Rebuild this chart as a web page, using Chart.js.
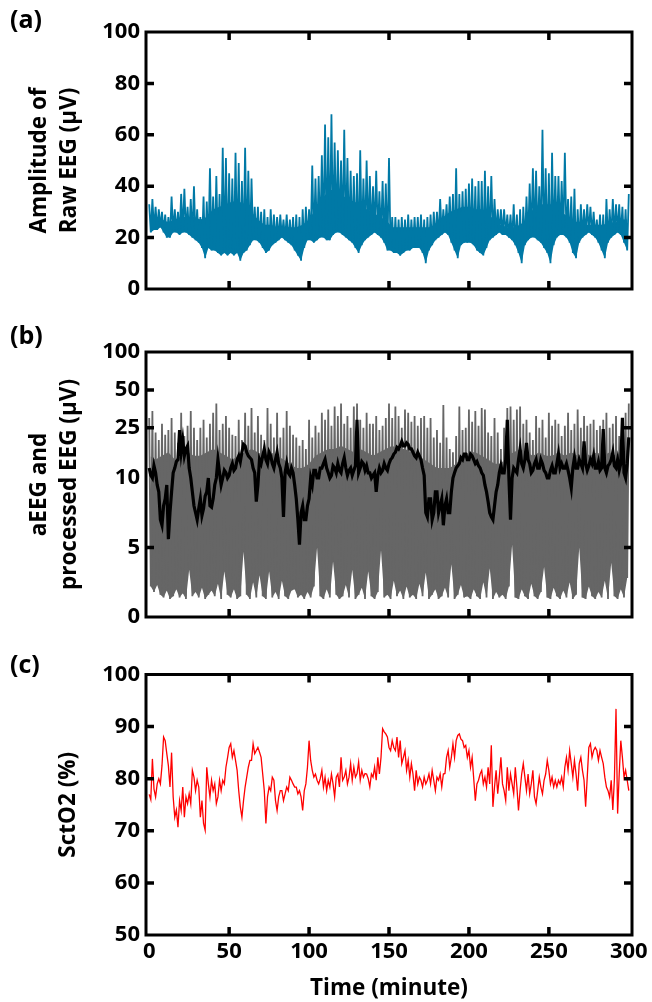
<!DOCTYPE html>
<html>
<head>
<meta charset="utf-8">
<script src="https://cdn.jsdelivr.net/npm/chart.js@4.4.1/dist/chart.umd.min.js"></script>
<style>
  html, body { margin: 0; padding: 0; background: #fff; }
  body { width: 652px; height: 1002px; position: relative; overflow: hidden; }
  canvas { position: absolute; left: 0; }
</style>
</head>
<body>
<canvas id="rawChart" width="652" height="310" style="top:0px"></canvas>
<canvas id="aeegChart" width="652" height="310" style="top:320px"></canvas>
<canvas id="sctChart" width="652" height="362" style="top:640px"></canvas>
<script>
// tick labels
const timeTicks = [0, 50, 100, 150, 200, 250, 300];
const rawTicks = [0, 20, 40, 60, 80, 100];
const aeegTicks = [0, 5, 10, 25, 50, 100];
const sctTicks = [50, 60, 70, 80, 90, 100];

// (a) raw EEG amplitude: peaks at even minutes, troughs at odd minutes (µV)
const rawPeak = [
  33, 35, 32, 31, 30, 29, 28, 36, 31, 30,
  37, 39, 32, 35, 40, 31, 28, 36, 34, 47,
  36, 44, 37, 55, 51, 45, 43, 53, 49, 42,
  55, 46, 43, 32, 32, 30, 31, 28, 31, 29,
  28, 29, 27, 29, 27, 28, 29, 28, 31, 32,
  31, 48, 43, 44, 52, 64, 59, 68, 57, 54,
  50, 62, 51, 46, 44, 45, 54, 43, 50, 44,
  40, 46, 38, 42, 41, 51, 28, 28, 27, 28,
  27, 29, 27, 28, 28, 29, 27, 28, 29, 30,
  30, 35, 31, 33, 36, 37, 47, 37, 38, 39,
  41, 43, 40, 42, 42, 46, 40, 44, 35, 31,
  31, 31, 29, 29, 33, 29, 31, 32, 36, 41,
  47, 46, 40, 62, 47, 45, 53, 44, 44, 42,
  53, 35, 36, 39, 31, 33, 31, 33, 32, 30,
  27, 29, 29, 35, 31, 35, 33, 33, 32, 31, 37
];
const rawTrough = [
  22, 23, 23, 24, 22, 20, 20, 22, 22, 21,
  22, 22, 21, 20, 19, 18, 16, 12, 16, 15,
  15, 14, 13, 14, 13, 14, 13, 14, 11, 14,
  15, 17, 19, 19, 18, 16, 14, 15, 17, 18,
  19, 20, 19, 18, 17, 15, 13, 11, 16, 19,
  19, 18, 19, 20, 20, 19, 19, 21, 22, 22,
  21, 20, 19, 18, 16, 14, 17, 19, 20, 21,
  22, 21, 20, 18, 15, 15, 14, 14, 13, 14,
  15, 15, 16, 16, 16, 14, 10, 15, 17, 19,
  20, 21, 22, 21, 18, 15, 12, 17, 18, 18,
  18, 17, 15, 14, 13, 16, 19, 20, 21, 22,
  21, 21, 20, 19, 17, 14, 10, 17, 19, 20,
  20, 19, 18, 16, 14, 10, 17, 20, 21, 21,
  20, 18, 14, 12, 18, 20, 21, 22, 21, 20,
  18, 15, 12, 18, 20, 21, 22, 21, 18, 15
];
// (a) top of the dense core, every 4 minutes (µV)
const rawCore = [
  28, 28, 27, 26, 27, 28, 28, 28, 27, 28,
  31, 32, 33, 34, 34, 33, 30, 27, 25, 25,
  24, 24, 24, 24, 25, 27, 31, 35, 38, 39,
  37, 35, 34, 33, 31, 30, 28, 27, 24, 24,
  24, 24, 24, 24, 24, 26, 28, 30, 31, 32,
  32, 31, 31, 29, 27, 25, 24, 24, 25, 27,
  31, 33, 33, 33, 31, 29, 27, 26, 25, 25,
  25, 25, 26, 26, 27, 27
];

// (b) aEEG band: upper margin at even minutes, lower margin at odd minutes (µV)
const aeegUpper = [
  30, 34, 23, 20, 27, 22, 24, 30, 23, 19,
  33, 21.5, 26, 34, 25, 20, 25, 29, 21, 27,
  33, 39, 24, 27, 31, 25, 22, 21.5, 29, 20,
  33, 26, 36, 23, 31, 22, 20, 36, 27, 21,
  33, 21, 25, 34, 26, 22, 21, 18, 20, 17,
  29, 21, 26, 23, 33, 29, 35, 26, 37, 31,
  39, 27, 31, 25, 37, 39, 29, 25, 33, 27,
  27, 31, 24, 26, 30, 39, 30, 37, 31, 25,
  35, 33, 28, 31, 26, 30, 31, 25, 30, 21,
  24, 19, 38, 21, 17, 16, 21.5, 37, 24, 25,
  35, 28, 34, 26, 36, 35, 23, 21.5, 30, 23,
  17, 25, 36, 37, 29, 35, 37, 27, 29, 23,
  20, 31, 25, 29, 21, 33, 26, 29, 27, 21.5,
  26, 33, 24, 27, 35, 25, 31, 26, 27, 29,
  24, 26, 29, 33, 25, 27, 31, 21.5, 29, 33, 39
];
const aeegLower = [
  2.2, 1.8, 2.3, 1.6, 1.4, 1.9, 1.3, 1.5, 2.0, 1.4,
  1.7, 1.3, 3.4, 1.5, 1.8, 1.4, 2.1, 1.3, 1.6, 1.9,
  1.5, 2.4, 1.3, 3.3, 1.6, 1.4, 2.0, 1.3, 1.5, 4.7,
  1.6, 1.3, 2.5, 1.4, 3.0, 1.5, 1.3, 3.3, 1.4, 1.8,
  1.3, 2.6, 1.5, 1.3, 1.9, 2.0, 1.4, 1.6, 1.3, 1.8,
  1.4, 2.2, 5.0, 1.5, 1.3, 2.0, 1.4, 4.0, 1.6, 1.3,
  1.5, 2.3, 1.4, 3.4, 1.3, 1.6, 2.1, 1.3, 3.3, 1.5,
  1.3, 1.8, 4.8, 1.4, 1.6, 1.3, 2.6, 1.5, 1.9, 1.3,
  2.2, 1.4, 1.6, 1.3, 2.4, 1.5, 3.2, 1.3, 1.6, 2.0,
  1.3, 1.5, 2.1, 1.4, 3.8, 1.3, 1.6, 2.3, 1.4, 1.5,
  1.3, 2.0, 1.5, 1.3, 2.5, 1.4, 3.5, 1.3, 1.8, 1.4,
  1.6, 1.3, 2.2, 5.2, 1.4, 1.3, 2.0, 1.5, 1.3, 2.4,
  1.5, 1.3, 1.8, 3.6, 1.4, 1.3, 2.1, 1.5, 1.3, 1.9,
  1.4, 2.5, 1.3, 1.6, 5.0, 1.4, 1.3, 2.2, 1.5, 1.3,
  1.8, 1.4, 2.6, 1.3, 3.9, 1.5, 1.3, 2.0, 1.4, 2.8
];
// (b) top of the solid aEEG band, every 4 minutes (µV)
const aeegCore = [
  15, 14, 15, 16, 14, 15, 16, 15, 15, 16,
  17, 16, 15, 14, 15, 16, 17, 16, 15, 16,
  15, 14, 13, 12, 12, 13, 15, 16, 17, 17,
  18, 17, 16, 17, 16, 15, 16, 17, 18, 17,
  17, 16, 15, 14, 13, 12, 12, 12, 13, 15,
  16, 16, 15, 14, 13, 13, 15, 16, 17, 16,
  15, 16, 15, 15, 16, 15, 16, 15, 16, 15,
  16, 15, 16, 15, 16, 17
];
// (b) processed EEG, every minute (µV)
const processedEeg = [
  12, 10.5, 10, 12.5, 11, 9.5, 9, 7, 6.6, 8, 8.5, 9.5, 5.6, 7.5, 9, 11, 12, 13.5, 14, 24,
  16, 20, 15, 17, 18, 12, 10, 9, 8, 7.5, 7, 7.8, 8.5, 7.3, 7.8, 8.7, 9, 10, 8, 7.9,
  8.5, 9.5, 10, 14, 11, 9.5, 10, 11.5, 11, 10, 10.5, 12, 13, 11.5, 12, 14, 15, 13.5, 16, 18.5,
  18, 16, 15, 14.5, 14, 12, 11, 8.3, 9.5, 14, 13, 15, 17, 14, 13, 16, 15, 13, 12, 14,
  16, 13, 12, 10, 7.2, 11, 13, 11, 10.5, 12, 11, 9.5, 8.5, 7, 5.2, 7.5, 8, 7, 7, 8,
  8.5, 10, 9.5, 11.5, 11.5, 10, 10, 12, 12, 13, 14, 12, 11, 10, 10.5, 12.5, 12, 11, 13, 11.5,
  11, 13, 14.5, 12, 10.5, 11.5, 12, 10.5, 11.5, 12.5, 29, 11, 12, 13.5, 13, 11.5, 12.5, 11, 11, 10,
  10.5, 11, 9, 10.5, 12, 11, 11.5, 13, 12, 11.5, 13, 14, 14.5, 15.5, 16, 17.5, 17, 18, 19.5, 18,
  18, 19, 18.5, 17, 17, 16, 15, 14.5, 16, 15, 14, 12, 10.5, 7.5, 7.2, 8.5, 8.5, 7, 7.5, 9,
  9, 7.5, 8, 8.5, 6.6, 8, 8.5, 7.5, 7.5, 9, 10, 11, 12, 12.5, 13, 14.5, 14, 15.5, 15.5, 14,
  14, 15.5, 15, 14, 13, 13.5, 12.5, 12, 11, 10.5, 9.5, 9, 8.3, 7.5, 7.2, 7, 8, 9, 9.5, 11,
  12.5, 11, 11, 14, 29, 10, 7, 10, 12, 11.5, 11, 14, 17, 13, 12, 14, 19, 14, 13, 11,
  11.5, 13, 14, 12, 12, 14, 13, 11.5, 11, 10, 10, 11.5, 12.5, 11, 11, 13, 15.5, 12, 13, 12,
  12, 13, 11.5, 10, 9.3, 12, 14.5, 12, 12, 14, 13, 12, 19.5, 13, 11.5, 12.5, 14, 13, 15, 12,
  12, 13.5, 11.5, 12, 24.5, 12, 11, 12.5, 13, 14, 16, 12.5, 12, 14, 11.5, 13, 30, 11, 10, 13,
  21
];

// (c) SctO2, every minute (%)
const sctO2 = [
  77, 76, 83.8, 78, 76.5, 79, 80, 79, 82.5, 88, 87.3, 84.8, 82.5, 78.4, 85, 76.5, 72.6, 74, 70.7, 75.8,
  73.9, 78.4, 72.6, 76.5, 75.2, 77.1, 75.2, 81.6, 80.3, 77.7, 79.7, 78.4, 72.6, 75.8, 71.4, 70.1, 82.2, 79, 76.5, 79.7,
  77.7, 79, 75.2, 76.5, 79.7, 77.7, 79.7, 79, 82.2, 84, 86, 86.7, 84.1, 85.4, 83.5, 81.6, 77.7, 74.6, 72.6, 75.8,
  78.4, 80.3, 82.2, 83.5, 83.5, 86.7, 84.8, 85.4, 86, 85.1, 84.1, 80.9, 77.7, 71.4, 76.5, 78.4, 77.7, 80.3, 79.7, 75.8,
  73.9, 76.5, 77.7, 77.7, 75.8, 77.1, 78.4, 77.7, 80.3, 79.7, 79, 78.4, 78.4, 77.1, 77.7, 76.5, 73.9, 77.7, 79, 82.2,
  87.3, 83.5, 81.6, 80.3, 80.9, 79.7, 79, 80, 81.6, 78.4, 80.3, 77.7, 79.7, 78.4, 80.9, 79, 76.5, 80.3, 80.9, 78.4,
  84.1, 79.7, 80.3, 81.6, 79, 80.3, 82.9, 79.7, 82.2, 80.3, 81, 83.2, 79.7, 81.6, 80.3, 81, 80.9, 80, 78.4, 80.9,
  80.3, 82.2, 79.7, 84.1, 80.9, 84.1, 89.6, 89, 88.6, 88, 86, 85.4, 87.3, 86, 85.4, 88, 84.1, 87.3, 82.9, 84.1,
  85.4, 81.6, 83.5, 80.3, 82.9, 80.9, 77.7, 81.6, 79, 80.3, 79.7, 78.4, 80.3, 79, 79.7, 80.9, 79, 81.6, 79.7, 77.7,
  80.3, 79.7, 80.9, 78.4, 80.9, 81, 84.1, 85.4, 82.2, 84.1, 86.7, 84.1, 87.3, 88.3, 88.6, 87.6, 87.3, 86, 86.4, 84.1,
  85.4, 82.2, 84.1, 80, 75.8, 79, 79.7, 80.9, 81.6, 79, 80.3, 78.4, 82.2, 79, 86.4, 74.6, 78.4, 81.6, 77.1, 80.3,
  84.1, 79, 77.7, 75.8, 82.2, 77.7, 80.9, 79, 77.1, 82.2, 78.4, 73.9, 77.7, 80.9, 82.9, 80.3, 77.7, 80.9, 77.1, 79,
  81.6, 76.5, 75.2, 77.7, 80.3, 78.4, 77.1, 79.7, 80.9, 83.5, 81.6, 79, 80.3, 78.4, 79.7, 78.4, 79.7, 79, 80.3, 78.4,
  82.2, 84.1, 81.6, 85.4, 82.9, 80.3, 83.5, 80.9, 77.7, 82.9, 84.1, 81.6, 79.7, 74.6, 80.3, 86, 86.7, 84.1, 85.4, 86,
  85.4, 83.5, 85.4, 84.1, 82.9, 80.3, 78.4, 77.7, 76.5, 79.7, 74, 80, 93.4, 73.3, 80.9, 87.3, 84.1, 80.3, 81.6, 79.7,
  77.7
];

const FONT = '"Open Sans", Lato, sans-serif';
Chart.defaults.font.family = FONT;
Chart.defaults.color = '#000';

// peaks sit on even minutes, troughs on the odd minute after them
function envelopeTrace(peaks, troughs) {
  const pts = [];
  peaks.forEach((v, i) => {
    pts.push({x: 2 * i, y: v});
    if (i < troughs.length) pts.push({x: 2 * i + 1, y: troughs[i]});
  });
  return pts;
}
function troughTrace(troughs) {
  return troughs.map((v, i) => ({x: 2 * i + 1, y: v}));
}
function everyFour(values) {
  return values.map((v, i) => ({x: 4 * i, y: v}));
}

// aEEG axis: linear 0-10, logarithmic 10-100
class AeegScale extends Chart.LinearScale {
  getPixelForValue(value) {
    const linFrac = 0.5245;
    let d;
    if (value <= 10) d = (value / 10) * linFrac;
    else d = linFrac + (1 - linFrac) * Math.log10(value / 10);
    return this.getPixelForDecimal(d);
  }
}
AeegScale.id = 'aeeg';
AeegScale.defaults = {};
Chart.register(AeegScale);

// box frame with inward ticks on all sides, plus panel letter
const framePlugin = {
  id: 'frame',
  afterDraw(chart, args, opts) {
    const {ctx, chartArea: a, scales} = chart;
    ctx.save();
    ctx.strokeStyle = '#000';
    ctx.lineWidth = 3;
    ctx.strokeRect(a.left, a.top, a.right - a.left, a.bottom - a.top);
    ctx.lineWidth = 3.5;
    ctx.beginPath();
    timeTicks.slice(1, -1).forEach(t => {
      const px = scales.x.getPixelForValue(t);
      ctx.moveTo(px, a.bottom); ctx.lineTo(px, a.bottom - 8);
      ctx.moveTo(px, a.top); ctx.lineTo(px, a.top + 8);
    });
    opts.yMarks.forEach(v => {
      const py = scales.y.getPixelForValue(v);
      ctx.moveTo(a.left, py); ctx.lineTo(a.left + 8, py);
      ctx.moveTo(a.right, py); ctx.lineTo(a.right - 8, py);
    });
    ctx.stroke();
    ctx.fillStyle = '#000';
    ctx.font = 'bold 25px ' + FONT;
    ctx.textBaseline = 'middle';
    ctx.fillText(opts.label, 10, opts.labelY);
    ctx.restore();
  }
};

const tickFont = {size: 22, weight: 'bold'};
const titleFont = {size: 22.5, weight: 'bold', lineHeight: 1.36};

function yAxis(ticks, title, titlePad, extra) {
  return Object.assign({
    min: ticks[0], max: ticks[ticks.length - 1],
    afterBuildTicks: s => { s.ticks = ticks.map(v => ({value: v})); },
    afterFit: s => { s.width = 146; s.paddingTop = 0; s.paddingBottom = 0; },
    grid: {display: false, drawTicks: false},
    border: {display: false},
    ticks: {font: tickFont, color: '#000', padding: 6, callback: (v, i) => ticks[i]},
    title: {display: true, text: title, font: titleFont, color: '#000', padding: {top: titlePad, bottom: 0}}
  }, extra || {});
}

const EEG_BLUE = '#0079a6';
const AEEG_GRAY = '#666666';
const NONE = 'rgba(0,0,0,0)';

new Chart(document.getElementById('rawChart'), {
  type: 'line',
  data: {
    datasets: [{
      data: envelopeTrace(rawPeak, rawTrough),
      borderColor: EEG_BLUE, borderWidth: 1.8, pointRadius: 0, tension: 0
    }, {
      data: everyFour(rawCore),
      borderColor: NONE, backgroundColor: EEG_BLUE, pointRadius: 0, tension: 0, fill: '+1'
    }, {
      data: troughTrace(rawTrough),
      borderColor: NONE, pointRadius: 0, tension: 0
    }]
  },
  options: {
    responsive: false, animation: false, events: [],
    layout: {padding: {top: 32, right: 20, bottom: 21, left: 0}},
    plugins: {legend: {display: false}, tooltip: {enabled: false},
      frame: {label: '(a)', labelY: 21, yMarks: [20, 40, 60, 80]}},
    scales: {
      x: {type: 'linear', min: -2, max: 302, display: false},
      y: yAxis(rawTicks, ['Amplitude of', 'Raw EEG (µV)'], 24)
    }
  },
  plugins: [framePlugin]
});

new Chart(document.getElementById('aeegChart'), {
  type: 'line',
  data: {
    datasets: [{
      data: processedEeg.map((v, i) => ({x: i, y: v})),
      borderColor: '#000000', borderWidth: 3.2, pointRadius: 0, tension: 0
    }, {
      data: envelopeTrace(aeegUpper, aeegLower),
      borderColor: AEEG_GRAY, borderWidth: 1.8, pointRadius: 0, tension: 0
    }, {
      data: everyFour(aeegCore),
      borderColor: NONE, backgroundColor: AEEG_GRAY, pointRadius: 0, tension: 0, fill: '+1'
    }, {
      data: troughTrace(aeegLower),
      borderColor: NONE, pointRadius: 0, tension: 0
    }]
  },
  options: {
    responsive: false, animation: false, events: [],
    layout: {padding: {top: 32, right: 20, bottom: 13, left: 0}},
    plugins: {legend: {display: false}, tooltip: {enabled: false},
      frame: {label: '(b)', labelY: 17, yMarks: [5, 25, 50]}},
    scales: {
      x: {type: 'linear', min: -2, max: 302, display: false},
      y: yAxis(aeegTicks, ['aEEG and', 'processed EEG (µV)'], 24, {type: 'aeeg'})
    }
  },
  plugins: [framePlugin]
});

new Chart(document.getElementById('sctChart'), {
  type: 'line',
  data: {
    datasets: [{
      data: sctO2.map((v, i) => ({x: i, y: v})),
      borderColor: '#ff0000', borderWidth: 1.3, pointRadius: 0, tension: 0
    }]
  },
  options: {
    responsive: false, animation: false, events: [],
    layout: {padding: {top: 34.5, right: 20, bottom: 0, left: 0}},
    plugins: {legend: {display: false}, tooltip: {enabled: false},
      frame: {label: '(c)', labelY: 26, yMarks: [60, 70, 80, 90]}},
    scales: {
      x: {
        type: 'linear', min: -2, max: 302,
        afterBuildTicks: s => { s.ticks = timeTicks.map(v => ({value: v})); },
        afterFit: s => { s.height = 67; s.paddingLeft = 0; s.paddingRight = 0; },
        grid: {display: false, drawTicks: false},
        border: {display: false},
        ticks: {font: tickFont, color: '#000', padding: 4, maxRotation: 0, autoSkip: false},
        title: {display: true, text: 'Time (minute)', font: {size: 22.5, weight: 'bold'}, color: '#000', padding: {top: 0, bottom: 0}}
      },
      y: yAxis(sctTicks, 'SctO2 (%)', 53)
    }
  },
  plugins: [framePlugin]
});
</script>
</body>
</html>
